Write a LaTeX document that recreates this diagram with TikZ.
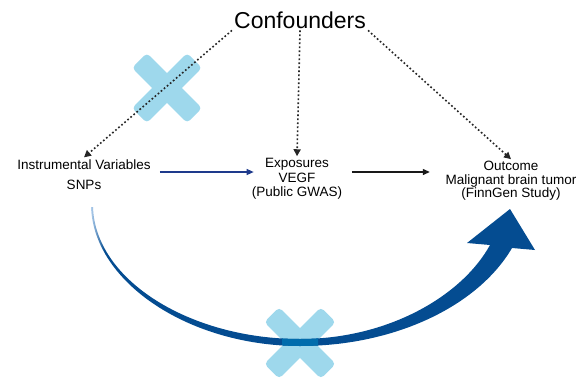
\documentclass[tikz,border=0pt]{standalone}
\usepackage{fontspec}
\setmainfont{Liberation Sans}
\usetikzlibrary{arrows.meta,positioning,calc}

\definecolor{crossblue}{RGB}{158,216,236}
\definecolor{arcblue}{RGB}{4,76,145}
\definecolor{arcpale}{RGB}{175,205,235}
\definecolor{arcmid}{RGB}{0,108,172}
\definecolor{ivnavy}{RGB}{30,58,140}
\pgfdeclarehorizontalshading{arcfade}{100bp}{color(0bp)=(arcpale); color(25bp)=(arcpale); color(26.5bp)=(arcblue); color(100bp)=(arcblue)}
% outline of the big curved arrow
\newcommand{\arcoutline}{(91,207) .. controls (94,283) and (190,346) .. (300,346)
  .. controls (395,346) and (478,306) .. (512,248) -- (535,250) -- (510,209) -- (467,243) -- (490,245)
  .. controls (462,296) and (388,339) .. (300,339) .. controls (190,339) and (95,280) .. (93,207) -- cycle}

\begin{document}
\begin{tikzpicture}[x=1pt, y=-1pt, every node/.style={inner sep=2pt},
  xarm/.style={fill=crossblue, rounded corners=4pt, minimum width=78pt, minimum height=21pt, inner sep=0pt},
  dotline/.style={black!85, line width=1.6pt, dash pattern=on 1.7pt off 2.3pt, -{Triangle[length=7pt,width=7pt]}},
  flow/.style={line width=1.2pt, -{Triangle[length=7pt,width=6pt]}}]
\useasboundingbox (0,0) rectangle (579,378);
% crossed-out marks
\foreach \a/\n in {45/a,-45/b} {
  \node[xarm, rotate=\a] (xup\n) at (167,88) {};
  \node[xarm, rotate=\a, minimum width=80pt] (xdn\n) at (300,343) {};
}
% Nodes
\node[anchor=base, font=\fontsize{23}{27}\selectfont] (conf) at (300,28) {Confounders};
\node[align=center, font=\fontsize{13.5}{20}\selectfont] (iv) at (84,174.5) {Instrumental Variables\\SNPs};
\node[align=center, font=\fontsize{13.5}{14.5}\selectfont] (expo) at (297,179) {Exposures\\VEGF\\(Public GWAS)};
\node[align=center, font=\fontsize{13.5}{13.5}\selectfont] (outc) at (511,181) {Outcome\\Malignant brain tumor\\(FinnGen Study)};
% Direct path from instruments to outcome
\shade[shading=arcfade] \arcoutline;
\begin{scope}
\clip (282,330) rectangle (318,352);
\fill[arcmid] \arcoutline;
\end{scope}
% Confounding paths
\draw[dotline] (conf.south west) -- (iv.north);
\draw[dotline] (conf.south) -- (expo.north);
\draw[dotline] (conf.south east) -- (outc.north);
% Causal chain
\coordinate (ivout) at ([yshift=2.5pt]iv.east);
\draw[flow, ivnavy, shorten <=7pt, shorten >=-4pt] (ivout) -- (ivout -| expo.west);
\draw[flow, black!90, shorten <=7.6pt, shorten >=13.7pt] (ivout -| expo.east) -- (ivout -| outc.west);
\end{tikzpicture}
\end{document}
